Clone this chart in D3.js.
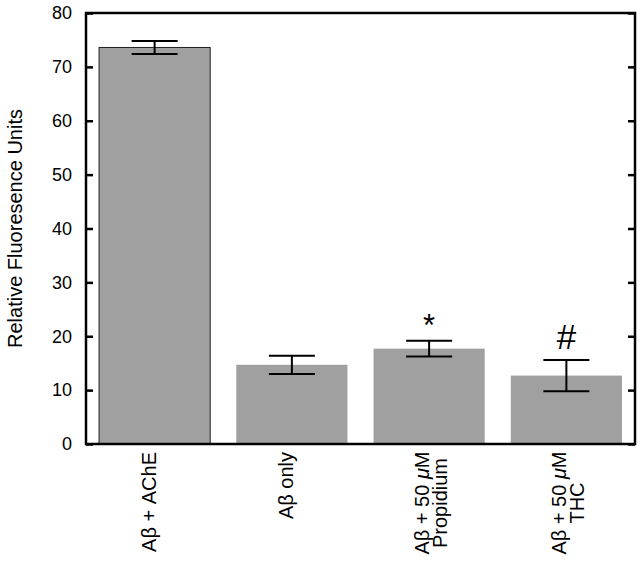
<!DOCTYPE html>
<html><head><meta charset="utf-8">
<script src="https://cdn.jsdelivr.net/npm/d3@7"></script>
<style>body{margin:0;background:#fff}svg{display:block}text{font-family:"Liberation Sans",Arial,Helvetica,sans-serif;fill:#000}</style>
</head><body>
<svg id="c" width="643" height="564"></svg>
<script>
const categories = ["Aβ + AChE", "Aβ only", "Aβ + 50 μM Propidium", "Aβ + 50 μM THC"];
const labelLines = [["Aβ + AChE"], ["Aβ only"], ["Aβ + 50 |μ|M", "Propidium"], ["Aβ + 50 |μ|M", "THC"]];
const values = [73.6, 14.7, 17.7, 12.7];
const errors = [1.2, 1.7, 1.45, 2.9];
const markers = ["", "", "*", "#"];
const yTicks = [0, 10, 20, 30, 40, 50, 60, 70, 80];
const yTitle = "Relative Fluoresence Units";

const svg = d3.select("#c");
const L = 86, R = 635, T = 13, B = 444;
const x = d3.scaleBand().domain(categories).range([L, R]).paddingInner(0.19).paddingOuter(0.095);
const y = d3.scaleLinear().domain([0, 80]).range([B, T]);

// bars
svg.selectAll("rect.bar").data(categories).enter().append("rect")
  .attr("x", d => x(d)).attr("width", x.bandwidth())
  .attr("y", (d, i) => y(values[i])).attr("height", (d, i) => B - y(values[i]))
  .attr("fill", "#a0a0a0")
  .attr("stroke", (d, i) => i === 0 ? "#222" : "none").attr("stroke-width", 1);

// error bars
const cap = 23;
categories.forEach((c, i) => {
  const cx = x(c) + x.bandwidth() / 2;
  const g = svg.append("g").attr("stroke", "#000").attr("stroke-width", 2);
  g.append("line").attr("x1", cx).attr("x2", cx).attr("y1", y(values[i] + errors[i])).attr("y2", y(values[i] - errors[i]));
  g.append("line").attr("x1", cx - cap).attr("x2", cx + cap).attr("y1", y(values[i] + errors[i])).attr("y2", y(values[i] + errors[i]));
  g.append("line").attr("x1", cx - cap).attr("x2", cx + cap).attr("y1", y(values[i] - errors[i])).attr("y2", y(values[i] - errors[i]));
});

// markers
svg.selectAll("text.mk").data(markers).enter().append("text")
  .attr("x", (d, i) => x(categories[i]) + x.bandwidth() / 2)
  .attr("y", (d, i) => y(values[i] + errors[i]) - (d === "*" ? 5 : 11))
  .attr("text-anchor", "middle").attr("font-size", (d) => d === "*" ? 31 : 35)
  .text(d => d);

// frame
svg.append("rect").attr("x", L).attr("y", T).attr("width", R - L).attr("height", B - T)
  .attr("fill", "none").attr("stroke", "#000").attr("stroke-width", 2.5);

// axes
const yl = svg.append("g").attr("transform", `translate(${L},0)`)
  .call(d3.axisLeft(y).tickValues(yTicks).tickSizeInner(-7).tickSizeOuter(0).tickPadding(14));
yl.select(".domain").remove();
yl.selectAll(".tick line").attr("stroke-width", 2.5);
yl.selectAll(".tick text").attr("font-size", 18).attr("font-family", '"Liberation Sans",Arial,sans-serif');
const yr = svg.append("g").attr("transform", `translate(${R},0)`)
  .call(d3.axisRight(y).tickValues(yTicks).tickSizeInner(-7).tickSizeOuter(0).tickFormat(""));
yr.select(".domain").remove();
yr.selectAll(".tick line").attr("stroke-width", 2.5);

// y title
svg.append("text").attr("transform", `translate(22,${(T + B) / 2}) rotate(-90)`)
  .attr("text-anchor", "middle").attr("font-size", 20).text(yTitle);

// x labels
labelLines.forEach((lines, i) => {
  const cx = x(categories[i]) + x.bandwidth() / 2;
  const n = lines.length;
  const lh = 18.5;
  lines.forEach((ln, j) => {
    const off = n === 1 ? 1 : j * lh - 0.5;
    const t = svg.append("text")
      .attr("transform", `translate(${cx + off},${n === 1 ? 452 : 503}) rotate(-90)`)
      .attr("text-anchor", n === 1 ? "end" : "middle").attr("font-size", 20);
    ln.split("|").forEach((part) => {
      const s = t.append("tspan").text(part);
      if (part === "μ") s.attr("font-style", "italic");
    });
  });
});
</script>
</body></html>
